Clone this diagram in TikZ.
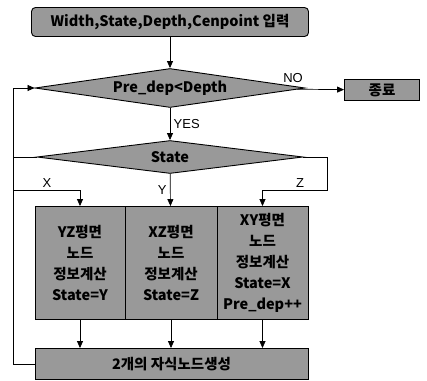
\documentclass[tikz,border=0pt]{standalone}
\usepackage{fontspec}
\setmainfont{Liberation Sans}
\newfontfamily\kr{Noto Sans CJK KR}
\usetikzlibrary{shapes.geometric,arrows.meta}

\begin{document}
\begin{tikzpicture}[x=1pt,y=-1pt,
    box/.style={draw,line width=.9pt,fill=black!40,inner sep=0pt,align=center,
      font=\kr\bfseries\fontsize{14.5}{21}\selectfont},
    dia/.style={box,diamond,aspect=8},
    arr/.style={-{Triangle[length=7pt,width=6pt]},line width=.7pt},
    lab/.style={font=\fontsize{13}{15}\selectfont}]
    \useasboundingbox (0,0) rectangle (427,380);
    \node[box,rounded corners=4pt,minimum width=277,minimum height=29] (top) at (170,22)
      {Width,State,Depth,Cenpoint 입력};
    \node[dia,minimum width=270,minimum height=39] (d1) at (170,88) {Pre\_dep\textless Depth};
    \node[box,minimum width=75,minimum height=21] (end) at (382,90) {종료};
    \node[dia,minimum width=266,minimum height=33] (d2) at (170,157) {State};
    \node[box,minimum width=90,minimum height=113] (b1) at (80,263)
      {YZ평면\\노드\\정보계산\\State=Y};
    \node[box,minimum width=92,minimum height=113] (b2) at (171,263)
      {XZ평면\\노드\\정보계산\\State=Z};
    \node[box,minimum width=91,minimum height=113] (b3) at (262.5,263)
      {XY평면\\노드\\정보계산\\State=X\\Pre\_dep++};
    \node[box,minimum width=273,minimum height=31] (bot) at (171.5,364) {2개의 자식노드생성};
    % loop and branch corners
    \coordinate (lt) at (13,88);
    \coordinate (xl) at (13,190);
    \coordinate (zr) at (327,190);
    \draw[arr] (top) -- (d1);
    \draw[arr] (d1) -- (end);
    \draw[arr] (d1) -- (d2) node[lab,midway,right] {YES};
    \draw[arr] (d2) -- (b2) node[lab,midway,left] {Y};
    \draw[arr] (d2.west) -| (xl) -| (b1.north);
    \draw[arr] (d2.east) -| (zr) -| (b3.north);
    \node[lab] (lno) at (293,78) {NO};
    \node[lab] (lx) at (47,183) {X};
    \node[lab] (lz) at (300,183) {Z};
    \foreach \b in {b1,b2,b3}
    \draw[arr] (\b.south) -- (\b.south |- bot.north);
    \draw[arr] (bot.west) -| (lt) -- (d1.west);
  \end{tikzpicture}
\end{document}
